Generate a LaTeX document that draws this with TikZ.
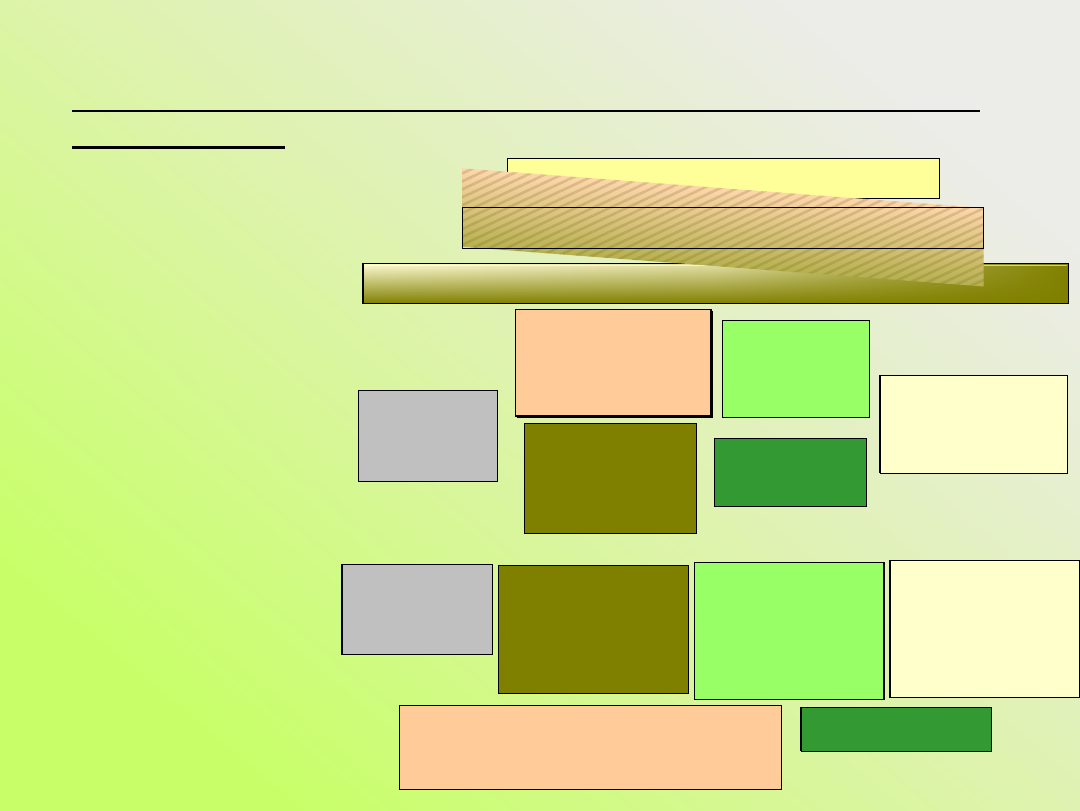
\documentclass[tikz,border=0pt]{standalone}
\usetikzlibrary{fit,fadings,patterns.meta}
\definecolor{bgA}{RGB}{200,255,105}
\definecolor{bgM}{RGB}{222,243,172}
\definecolor{bgB}{RGB}{236,236,232}
\definecolor{yel}{RGB}{255,255,153}
\definecolor{peachc}{RGB}{255,204,153}
\definecolor{grayc}{RGB}{192,192,192}
\definecolor{olivec}{RGB}{128,128,0}
\definecolor{lgreen}{RGB}{153,255,102}
\definecolor{dgreen}{RGB}{51,153,51}
\definecolor{lyel}{RGB}{255,255,204}
\definecolor{cream}{RGB}{255,252,212}
\definecolor{barmid}{RGB}{228,224,168}
\definecolor{hpeach}{RGB}{255,214,172}
\definecolor{hmid}{RGB}{212,196,150}
\definecolor{holive}{RGB}{182,176,78}
\definecolor{hstripe}{RGB}{110,100,30}
\tikzfading[name=barfade, top color=transparent!100, middle color=transparent!80, bottom color=transparent!0]
\begin{document}
\begin{tikzpicture}[x=0.5pt,y=-0.5pt,
  box/.style={draw=black, line width=0.6pt, inner sep=0pt, outer sep=0pt},
  shadowbox/.style={fill=black, inner sep=0pt, outer sep=0pt},
  rule/.style={line width=1.1pt, black}]
\useasboundingbox (0,0) rectangle (1080,810);
% background
\shade[top color=bgB, bottom color=bgA, middle color=bgM, shading angle=-40] (0,0) rectangle (1080,810);
% title rules
\coordinate (l1a) at (72,111); \coordinate (l1b) at (980,111);
\coordinate (l2a) at (72,147.5); \coordinate (l2b) at (285,147.5);
\draw[rule] (l1a) -- (l1b);
\draw[rule] (l2a) -- (l2b);
% top yellow box
\node[box, fill=yel, fit={(507.3,158.3) (939.6,198.3)}] (ytop) {};
% gradient bar
\node[box, left color=cream, right color=olivec, middle color=barmid, fit={(363,263.3) (1068.6,303.3)}] (bar) {};
\fill[olivec, path fading=barfade] (bar.north west) rectangle (bar.south east);
\draw[white, opacity=0.6, line width=0.5pt] ([shift={(1.5,1.8)}]bar.north west) -- ([shift={(-1.5,1.8)}]bar.north east);
\draw[line width=0.6pt] (bar.north west) rectangle (bar.south east);
% hatched band
\begin{scope}[transform canvas={shift={(462,168.3)}, yslant=-0.0761}]
  \shade[top color=hpeach, middle color=hmid, bottom color=holive] (0,0) rectangle (521.7,78.5);
  \fill[pattern={Lines[angle=25,distance=3.6pt,line width=1.3pt]}, pattern color=hstripe, opacity=0.22] (0,0) rectangle (521.7,78.5);
\end{scope}
% outlined middle box
\node[box, fit={(462.4,207.5) (983.7,248.3)}] (mid) {};
% middle row boxes
\node[shadowbox, fit={(517.3,311.3) (713,418)}] (p1s) {};
\node[box, fill=peachc, fit={(515.3,309.3) (711,416)}] (p1) {};
\node[box, fill=grayc, fit={(358.3,390.3) (497.3,481.3)}] (g1) {};
\node[box, fill=olivec, fit={(524.3,423.3) (696.7,533.3)}] (o1) {};
\node[box, fill=lgreen, fit={(722.3,320.3) (869.7,417.3)}] (lg1) {};
\node[box, fill=dgreen, fit={(714.3,438.3) (866.3,506.3)}] (dg1) {};
\node[shadowbox, fit={(878.8,375.3) (1066,473.3)}] (ly1s) {};
\node[box, fill=lyel, fit={(880.3,375.3) (1067.7,473.3)}] (ly1) {};
% bottom row boxes
\node[shadowbox, fit={(341,564.3) (490,654.3)}] (g2s) {};
\node[box, fill=grayc, fit={(342,564.3) (492.6,654.3)}] (g2) {};
\node[box, fill=olivec, fit={(498.4,565.3) (688.3,693.3)}] (o2) {};
\node[box, fill=lgreen, fit={(694.5,562.3) (883.9,699.3)}] (lg2) {};
\node[shadowbox, fit={(888.8,560.3) (1078,697.3)}] (ly2s) {};
\node[box, fill=lyel, fit={(890,560.3) (1079.5,697.3)}] (ly2) {};
\node[box, fill=peachc, fit={(399.4,705.3) (781.5,789.3)}] (p2) {};
\node[shadowbox, fit={(799.8,707.3) (990,751.3)}] (dg2s) {};
\node[box, fill=dgreen, fit={(801.1,707.3) (991.5,751.3)}] (dg2) {};
\end{tikzpicture}
\end{document}
